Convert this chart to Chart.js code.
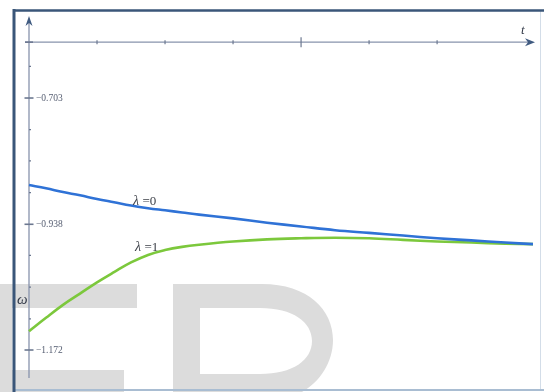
<!DOCTYPE html>
<html>
<head>
<meta charset="utf-8">
<style>
  html, body { margin: 0; padding: 0; background: #ffffff; }
  #wrap { width: 544px; height: 392px; }
</style>
<script src="https://cdn.jsdelivr.net/npm/chart.js@4/dist/chart.umd.min.js"></script>
</head>
<body>
<div id="wrap"><canvas id="c" width="544" height="392"></canvas></div>
<script>
// Time samples t and the two solution curves ω(t)
const tValues = [0, 0.25, 0.5, 0.75, 1, 1.25, 1.5, 1.75, 2, 2.25, 2.5, 3, 3.5, 4, 4.5, 5, 5.5, 6, 6.5, 7, 7.41];
const omegaLambda0 = [-0.865, -0.871, -0.878, -0.884, -0.891, -0.897, -0.903, -0.908, -0.912, -0.916, -0.920,
                      -0.927, -0.935, -0.942, -0.949, -0.954, -0.959, -0.964, -0.968, -0.972, -0.975];
const omegaLambda1 = [-1.137, -1.112, -1.088, -1.067, -1.046, -1.027, -1.009, -0.995, -0.986, -0.980, -0.976,
                      -0.970, -0.966, -0.964, -0.963, -0.964, -0.967, -0.970, -0.972, -0.974, -0.975];

// Axis ticks
const xTicks = [1, 2, 3, 4, 5, 6];
const xMajorTicks = [4];
const yTicks = [-0.644, -0.703, -0.762, -0.820, -0.879, -0.938, -0.996, -1.055, -1.114, -1.172];
const yTickLabels = ['-0.703', '-0.938', '-1.172'];
const xAxisAt = -0.599;

// Curve labels
const curveLabels = [
  { sym: 'λ', text: ' =0', t: 1.53, v: -0.902 },
  { sym: 'λ', text: ' =1', t: 1.56, v: -0.988 }
];

const axisPlugin = {
  id: 'mathAxes',
  beforeDraw(chart) {
    const ctx = chart.ctx;
    ctx.save();
    ctx.fillStyle = '#ffffff';
    ctx.fillRect(0, 0, 544, 392);
    // faint background lettering
    ctx.fillStyle = '#dcdcdc';
    ctx.fillRect(0, 284, 137, 24);
    ctx.fillRect(0, 284, 12, 108);
    ctx.fillRect(0, 370, 124, 22);
    ctx.beginPath();
    ctx.moveTo(173, 284);
    ctx.lineTo(262, 284);
    ctx.bezierCurveTo(308, 284, 333, 310, 333, 340);
    ctx.bezierCurveTo(333, 362, 320, 382, 302, 392);
    ctx.lineTo(173, 392);
    ctx.closePath();
    ctx.moveTo(200, 308);
    ctx.lineTo(260, 308);
    ctx.bezierCurveTo(293, 308, 312, 322, 312, 341);
    ctx.bezierCurveTo(312, 360, 293, 374, 260, 374);
    ctx.lineTo(200, 374);
    ctx.closePath();
    ctx.fill('evenodd');
    // frame
    ctx.strokeStyle = '#d3dde8';
    ctx.lineWidth = 1;
    ctx.beginPath(); ctx.moveTo(540.5, 10); ctx.lineTo(540.5, 390); ctx.stroke();
    ctx.strokeStyle = '#a9bdd2';
    ctx.lineWidth = 2;
    ctx.beginPath(); ctx.moveTo(13, 390); ctx.lineTo(544, 390); ctx.stroke();
    ctx.strokeStyle = '#3a5679';
    ctx.lineWidth = 2.5;
    ctx.beginPath(); ctx.moveTo(13, 10.5); ctx.lineTo(544, 10.5); ctx.stroke();
    ctx.lineWidth = 3;
    ctx.beginPath(); ctx.moveTo(14, 9); ctx.lineTo(14, 392); ctx.stroke();
    ctx.restore();
  },
  beforeDatasetsDraw(chart) {
    const ctx = chart.ctx;
    const xs = chart.scales.x, ys = chart.scales.y;
    const x0 = xs.getPixelForValue(0);
    const yAx = ys.getPixelForValue(xAxisAt);
    const top = chart.chartArea.top, bottom = chart.chartArea.bottom;
    const right = chart.chartArea.right;
    ctx.save();
    ctx.strokeStyle = '#8793ac';
    ctx.lineWidth = 1.3;
    // vertical axis
    ctx.beginPath(); ctx.moveTo(x0, top + 2); ctx.lineTo(x0, bottom); ctx.stroke();
    // horizontal axis
    ctx.beginPath(); ctx.moveTo(x0 - 4, yAx); ctx.lineTo(right - 3, yAx); ctx.stroke();
    // arrowheads
    ctx.fillStyle = '#3f5a80';
    ctx.beginPath();
    ctx.moveTo(x0, top - 1); ctx.lineTo(x0 - 3.5, top + 9); ctx.lineTo(x0, top + 6); ctx.lineTo(x0 + 3.5, top + 9);
    ctx.closePath(); ctx.fill();
    ctx.beginPath();
    ctx.moveTo(right + 2, yAx); ctx.lineTo(right - 8, yAx - 4); ctx.lineTo(right - 5, yAx); ctx.lineTo(right - 8, yAx + 4);
    ctx.closePath(); ctx.fill();
    // x ticks
    ctx.strokeStyle = '#6c7890';
    ctx.lineWidth = 1.2;
    xTicks.forEach(t => {
      const px = xs.getPixelForValue(t);
      const h = xMajorTicks.includes(t) ? 5 : 2;
      ctx.beginPath(); ctx.moveTo(px, yAx - h); ctx.lineTo(px, yAx + h); ctx.stroke();
    });
    ctx.lineWidth = 1.6;
    ctx.beginPath(); ctx.moveTo(x0 - 4, yAx); ctx.lineTo(x0 + 4, yAx); ctx.stroke();
    // y ticks and labels
    ctx.font = '9.5px "Liberation Serif", serif';
    ctx.fillStyle = '#545c70';
    ctx.textBaseline = 'middle';
    ctx.textAlign = 'left';
    yTicks.forEach(v => {
      const py = ys.getPixelForValue(v);
      const label = yTickLabels.find(l => Math.abs(parseFloat(l) - v) < 0.001);
      const w = label ? 4.5 : 2;
      ctx.lineWidth = label ? 1.6 : 1.2;
      ctx.beginPath(); ctx.moveTo(x0 - (label ? w : 0), py); ctx.lineTo(x0 + w, py); ctx.stroke();
      if (label) ctx.fillText('\u2212' + label.slice(1), x0 + 7, py + 0.5);
    });
    // axis names
    ctx.fillStyle = '#333a48';
    ctx.font = 'italic 15px "Liberation Serif", serif';
    ctx.fillText('ω', 17, ys.getPixelForValue(-1.079));
    ctx.font = 'italic 13px "Liberation Serif", serif';
    ctx.fillText('t', right - 12, yAx - 12);
    ctx.restore();
  },
  afterDatasetsDraw(chart) {
    const ctx = chart.ctx;
    const xs = chart.scales.x, ys = chart.scales.y;
    ctx.save();
    ctx.fillStyle = '#3b3f47';
    ctx.textBaseline = 'alphabetic';
    curveLabels.forEach(l => {
      let px = xs.getPixelForValue(l.t);
      const py = ys.getPixelForValue(l.v);
      ctx.font = 'italic 14px "Liberation Serif", serif';
      ctx.fillText(l.sym, px, py);
      px += ctx.measureText(l.sym).width;
      ctx.font = '13px "Liberation Serif", serif';
      ctx.fillText(l.text, px, py);
    });
    ctx.restore();
  }
};

new Chart(document.getElementById('c'), {
  type: 'line',
  data: {
    datasets: [
      {
        label: 'λ=0',
        data: tValues.map((t, i) => ({ x: t, y: omegaLambda0[i] })),
        borderColor: '#2f72d6',
        borderWidth: 2.6,
        pointRadius: 0,
        tension: 0.4,
        fill: false,
        clip: false
      },
      {
        label: 'λ=1',
        data: tValues.map((t, i) => ({ x: t, y: omegaLambda1[i] })),
        borderColor: '#7cc83c',
        borderWidth: 2.6,
        pointRadius: 0,
        tension: 0.4,
        fill: false,
        clip: false
      }
    ]
  },
  options: {
    responsive: false,
    animation: false,
    events: [],
    layout: { padding: { left: 29, right: 11, top: 17, bottom: 14 } },
    plugins: { legend: { display: false }, tooltip: { enabled: false } },
    scales: {
      x: { type: 'linear', display: false, min: 0, max: 7.41 },
      y: { type: 'linear', display: false, min: -1.2241, max: -0.5522 }
    }
  },
  plugins: [axisPlugin]
});
</script>
</body>
</html>
